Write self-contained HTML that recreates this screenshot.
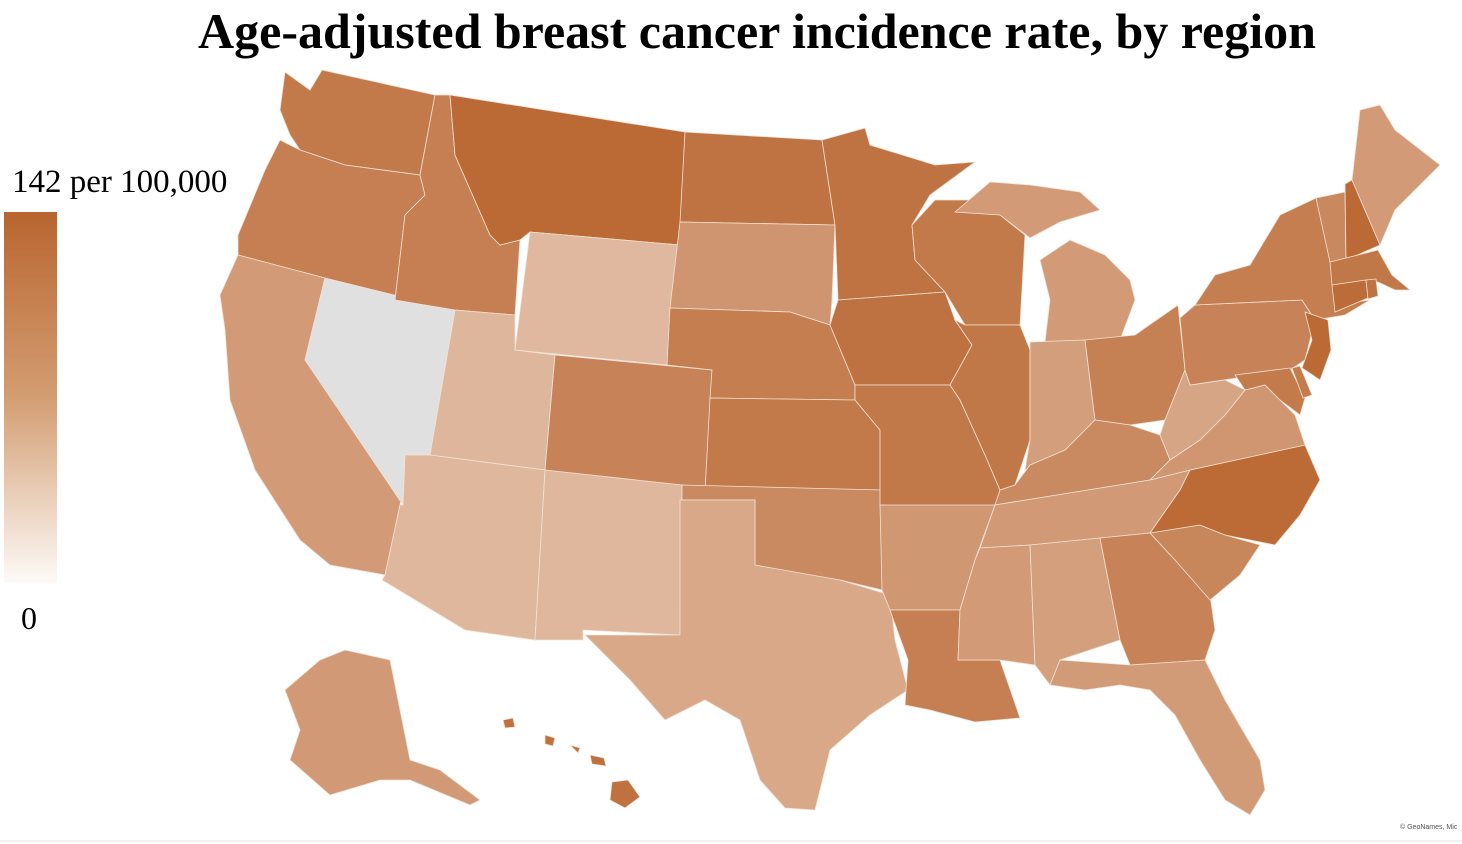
<!DOCTYPE html>
<html><head><meta charset="utf-8"><style>
html,body{margin:0;padding:0;background:#fff;}
#wrap{position:relative;width:1462px;height:844px;overflow:hidden;font-family:"Liberation Serif",serif;}
#title{position:absolute;left:0;width:1514px;top:2px;text-align:center;font-weight:bold;font-size:50px;color:#000;white-space:nowrap;}
#lmax{position:absolute;left:12px;top:164px;font-size:33px;white-space:nowrap;}
#lmin{position:absolute;left:21px;top:600px;font-size:32px;}
#bar{position:absolute;left:4px;top:212px;width:53px;height:371px;background:linear-gradient(to bottom,#b9652f,#d39d72 50%,#fdfaf7);}
#credit{position:absolute;left:1400px;top:824px;font-family:"Liberation Sans",sans-serif;font-size:7px;color:#555;}
svg{position:absolute;left:0;top:0;}
</style></head><body>
<div id="wrap">
<div id="title">Age-adjusted breast cancer incidence rate, by region</div>
<div id="lmax">142 per 100,000</div>
<div id="bar"></div>
<div id="lmin">0</div>
<svg id="map" width="1462" height="844">
<line x1="0" y1="841" x2="1462" y2="841" stroke="#e4e4e4" stroke-width="1"/>
</svg>
<div id="credit">© GeoNames, Mic</div>
</div>
<script>
const states = ["WA","OR","CA","NV","ID","MT","WY","UT","AZ","CO","NM","ND","SD","NE","KS","OK","TX","MN","IA","MO","AR","LA","WI","IL","MI","IN","OH","KY","TN","MS","AL","GA","FL","SC","NC","VA","WV","PA","NY","NJ","MD","DE","VT","NH","ME","MA","CT","RI","AK","HI"];
const values = [122,117,90,null,117,137,61,63,62,113,62,128,95,118,122,106,77,128,129,123,93,117,122,124,90,87,116,106,91,90,86,113,89,110,136,94,80,113,118,137,121,120,108,137,90,124,135,128,91,130];
const scaleMin = 0, scaleMax = 142;

const geo = {
WA:[[[285,72],[310,90],[322,70],[435,95],[420,175],[345,165],[300,150],[290,135],[280,110]]],
OR:[[[280,140],[300,150],[345,165],[420,175],[425,195],[405,215],[395,300],[325,278],[238,255],[238,235],[265,170]]],
CA:[[[238,255],[325,278],[305,360],[405,480],[400,505],[385,575],[330,565],[300,540],[255,470],[230,400],[225,330],[220,295]]],
NV:[[[325,278],[455,310],[430,455],[405,455],[403,505],[305,360]]],
ID:[[[435,95],[450,95],[455,155],[490,235],[500,245],[520,240],[515,315],[455,310],[395,300],[405,215],[425,195],[420,175]]],
MT:[[[450,95],[685,132],[680,245],[530,232],[520,240],[500,245],[490,235],[455,155]]],
WY:[[[530,232],[680,245],[667,365],[515,350]]],
UT:[[[455,310],[515,315],[515,350],[555,355],[545,470],[430,455]]],
AZ:[[[430,455],[545,470],[535,640],[465,630],[382,580],[385,575],[400,505],[403,505],[405,455]]],
CO:[[[555,355],[712,370],[705,492],[545,470]]],
NM:[[[545,470],[682,485],[680,635],[583,630],[583,640],[535,640]]],
ND:[[[685,132],[822,140],[835,225],[680,222]]],
SD:[[[680,222],[835,225],[832,300],[830,325],[790,312],[670,308]]],
NE:[[[670,308],[790,312],[830,325],[855,385],[855,400],[710,398],[712,370],[667,365]]],
KS:[[[710,398],[855,400],[880,430],[882,492],[705,492]]],
OK:[[[682,485],[882,490],[882,590],[840,580],[770,575],[755,565],[755,500],[682,500]]],
TX:[[[680,500],[755,500],[755,565],[840,580],[890,595],[895,640],[908,690],[870,715],[830,750],[815,810],[785,808],[760,780],[740,720],[705,700],[665,720],[630,680],[585,635],[680,635]]],
MN:[[[822,140],[865,128],[870,145],[935,165],[975,162],[930,195],[912,225],[915,260],[945,292],[838,300],[835,225]]],
IA:[[[838,300],[945,292],[955,320],[972,345],[950,385],[855,385],[830,325]]],
MO:[[[855,385],[950,385],[960,400],[985,455],[1000,490],[995,510],[975,510],[880,505],[880,430],[855,400]]],
AR:[[[880,505],[995,505],[975,560],[960,610],[890,610],[882,590]]],
LA:[[[890,610],[960,610],[958,660],[1000,660],[1020,718],[975,722],[930,710],[905,705],[908,660]]],
WI:[[[912,225],[935,200],[975,200],[1000,215],[1025,235],[1020,325],[965,325],[945,292],[915,260]]],
IL:[[[965,325],[1020,325],[1030,350],[1030,440],[1015,485],[1000,490],[985,455],[960,400],[950,385],[972,345],[955,320]]],
MI:[[[1040,260],[1070,240],[1105,255],[1130,280],[1135,300],[1120,340],[1045,342],[1050,300]],[[955,212],[990,182],[1030,185],[1080,192],[1100,210],[1060,222],[1030,238],[1000,215]]],
IN:[[[1030,342],[1085,340],[1095,420],[1065,450],[1025,470],[1030,440]]],
OH:[[[1085,340],[1135,335],[1178,305],[1185,370],[1165,420],[1130,425],[1095,420]]],
KY:[[[1000,490],[1015,485],[1030,465],[1065,450],[1095,420],[1130,425],[1160,435],[1170,460],[1150,480],[995,505]]],
TN:[[[995,505],[1150,480],[1190,470],[1180,490],[1150,533],[1100,538],[1030,545],[980,548]]],
MS:[[[980,548],[1030,545],[1035,665],[1000,660],[958,660],[960,610],[975,560]]],
AL:[[[1030,545],[1100,538],[1120,640],[1060,660],[1050,685],[1035,665]]],
GA:[[[1100,538],[1150,533],[1175,560],[1210,595],[1215,630],[1205,660],[1130,665],[1120,640]]],
FL:[[[1050,685],[1060,660],[1130,665],[1205,660],[1225,700],[1260,760],[1265,790],[1250,815],[1225,800],[1200,760],[1175,715],[1150,690],[1120,685],[1085,690]]],
SC:[[[1150,533],[1200,525],[1225,535],[1260,545],[1240,575],[1210,600],[1175,560]]],
NC:[[[1190,470],[1305,445],[1320,480],[1300,515],[1275,545],[1225,535],[1200,525],[1150,533],[1180,490]]],
VA:[[[1150,480],[1170,460],[1200,440],[1225,415],[1245,390],[1265,385],[1280,400],[1295,415],[1305,445],[1190,470]]],
WV:[[[1165,420],[1185,370],[1190,385],[1225,380],[1245,390],[1225,415],[1200,440],[1170,460],[1160,435]]],
PA:[[[1180,318],[1195,305],[1302,300],[1315,320],[1305,360],[1290,370],[1190,385],[1185,370]]],
NY:[[[1195,305],[1215,275],[1250,265],[1280,215],[1316,198],[1332,262],[1335,305],[1370,300],[1345,315],[1315,320],[1302,300]]],
NJ:[[[1305,312],[1328,320],[1331,350],[1320,380],[1302,368],[1312,340]]],
MD:[[[1235,375],[1290,368],[1305,398],[1300,415],[1280,400],[1265,385],[1245,390]]],
DE:[[[1292,368],[1300,366],[1312,395],[1303,398]]],
VT:[[[1316,198],[1345,192],[1346,260],[1330,262]]],
NH:[[[1345,184],[1352,180],[1380,245],[1346,260]]],
ME:[[[1360,110],[1380,105],[1395,130],[1440,165],[1395,210],[1380,245],[1352,180]]],
MA:[[[1330,262],[1378,250],[1392,275],[1410,290],[1395,290],[1378,282],[1332,285]]],
CT:[[[1332,285],[1366,280],[1368,298],[1335,312]]],
RI:[[[1366,280],[1376,279],[1378,296],[1368,299]]],
AK:[[[320,660],[345,650],[390,660],[410,760],[440,770],[480,800],[470,805],[410,780],[380,780],[330,795],[290,760],[300,730],[285,690]]],
HI:[[[503,720],[513,718],[515,727],[505,728]],[[545,735],[555,738],[553,746],[545,744]],[[570,745],[580,748],[578,753]],[[590,755],[604,758],[606,766],[592,764]],[[612,782],[628,780],[640,797],[625,808],[610,800]]]
};

const lo=[252,247,243], hi=[185,101,47];
function colorFor(v){
  if(v===null) return "#e0e0e0";
  const t=(v-scaleMin)/(scaleMax-scaleMin);
  const c=lo.map((l,i)=>Math.round(l+(hi[i]-l)*t));
  return "rgb("+c.join(",")+")";
}
const svg=document.getElementById('map');
const NS="http://www.w3.org/2000/svg";
states.forEach((s,i)=>{
  const p=document.createElementNS(NS,'path');
  const d=geo[s].map(poly=>"M"+poly.map(pt=>pt.join(",")).join("L")+"Z").join("");
  p.setAttribute('d',d);
  p.setAttribute('fill',colorFor(values[i]));
  p.setAttribute('stroke','#f3e2d4');
  p.setAttribute('stroke-width','0.8');
  
  
  svg.appendChild(p);
});
</script>
</body></html>
